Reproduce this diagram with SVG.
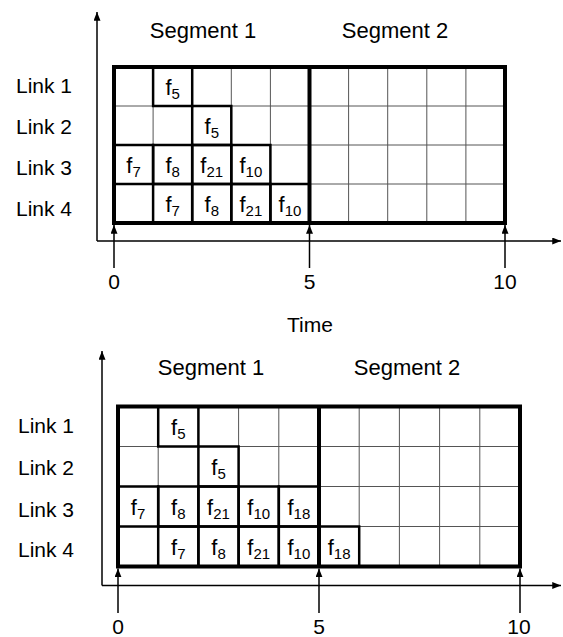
<svg xmlns="http://www.w3.org/2000/svg" width="563" height="637" viewBox="0 0 563 637">
<defs>
<marker id="ah" viewBox="0 0 10 8" refX="10" refY="4" markerWidth="9" markerHeight="7" markerUnits="userSpaceOnUse" orient="auto">
<path d="M0,0 L10,4 L0,8 z" fill="#000"/>
</marker>
</defs>
<style>
text{font-family:"Liberation Sans",Arial,sans-serif;fill:#000}
.lbl{font-size:21px}
.seg{font-size:22px;text-anchor:middle}
.num{font-size:21px;text-anchor:middle}
.f{font-size:22px;text-anchor:middle}
.s{font-size:15px}
.thin{stroke:#555;stroke-width:1;fill:none}
.cell{stroke:#000;stroke-width:2.5;fill:none}
.outer{stroke:#000;stroke-width:4;fill:none}
.ax{stroke:#000;stroke-width:1.5;fill:none;marker-end:url(#ah)}
</style>
<rect width="563" height="637" fill="#fff"/>

<!-- TOP DIAGRAM -->
<g id="top">
<g id="top-labels">
<text class="seg" x="203" y="38">Segment 1</text>
<text class="seg" x="395" y="38">Segment 2</text>
<text class="lbl" x="16" y="93">Link 1</text>
<text class="lbl" x="16" y="134">Link 2</text>
<text class="lbl" x="16" y="175">Link 3</text>
<text class="lbl" x="16" y="216">Link 4</text>
<text class="num" x="114" y="289">0</text>
<text class="num" x="309.5" y="289">5</text>
<text class="num" x="505" y="289">10</text>
<text class="num" x="310" y="332">Time</text>
</g>
<g id="top-grid">
<path class="thin" d="M153.1,67V223M192.2,67V223M231.3,67V223M270.4,67V223M348.6,67V223M387.7,67V223M426.8,67V223M465.9,67V223M114,106H505M114,145H505M114,184H505"/>
</g>
<g id="top-cells">
<rect class="cell" x="153.1" y="67" width="39.1" height="39"/>
<rect class="cell" x="192.2" y="106" width="39.1" height="39"/>
<rect class="cell" x="114" y="145" width="39.1" height="39"/>
<rect class="cell" x="153.1" y="145" width="39.1" height="39"/>
<rect class="cell" x="192.2" y="145" width="39.1" height="39"/>
<rect class="cell" x="231.3" y="145" width="39.1" height="39"/>
<rect class="cell" x="153.1" y="184" width="39.1" height="39"/>
<rect class="cell" x="192.2" y="184" width="39.1" height="39"/>
<rect class="cell" x="231.3" y="184" width="39.1" height="39"/>
<rect class="cell" x="270.4" y="184" width="39.1" height="39"/>
<text class="f" x="172.65" y="94.5">f<tspan class="s" dy="4">5</tspan></text>
<text class="f" x="211.75" y="133.5">f<tspan class="s" dy="4">5</tspan></text>
<text class="f" x="133.55" y="172.5">f<tspan class="s" dy="4">7</tspan></text>
<text class="f" x="172.65" y="172.5">f<tspan class="s" dy="4">8</tspan></text>
<text class="f" x="211.75" y="172.5">f<tspan class="s" dy="4">21</tspan></text>
<text class="f" x="250.85" y="172.5">f<tspan class="s" dy="4">10</tspan></text>
<text class="f" x="172.65" y="211.5">f<tspan class="s" dy="4">7</tspan></text>
<text class="f" x="211.75" y="211.5">f<tspan class="s" dy="4">8</tspan></text>
<text class="f" x="250.85" y="211.5">f<tspan class="s" dy="4">21</tspan></text>
<text class="f" x="289.95" y="211.5">f<tspan class="s" dy="4">10</tspan></text>
</g>
<g id="top-frame">
<rect class="outer" x="114" y="67" width="391" height="156"/>
<path class="outer" d="M309.5,67V223"/>
</g>
</g>

<!-- BOTTOM DIAGRAM -->
<g id="bottom">
<g id="bottom-labels">
<text class="seg" x="211" y="375">Segment 1</text>
<text class="seg" x="407" y="375">Segment 2</text>
<text class="lbl" x="18" y="433">Link 1</text>
<text class="lbl" x="18" y="475">Link 2</text>
<text class="lbl" x="18" y="516.5">Link 3</text>
<text class="lbl" x="18" y="557">Link 4</text>
<text class="num" x="118" y="634">0</text>
<text class="num" x="319" y="634">5</text>
<text class="num" x="519" y="634">10</text>
</g>
<g id="bottom-grid">
<path class="thin" d="M158.2,406.5V566.5M198.4,406.5V566.5M238.6,406.5V566.5M278.8,406.5V566.5M359.2,406.5V566.5M399.4,406.5V566.5M439.6,406.5V566.5M479.8,406.5V566.5M118,446.5H520M118,486.5H520M118,526.5H520"/>
</g>
<g id="bottom-cells">
<rect class="cell" x="158.2" y="406.5" width="40.2" height="40"/>
<rect class="cell" x="198.4" y="446.5" width="40.2" height="40"/>
<rect class="cell" x="118" y="486.5" width="40.2" height="40"/>
<rect class="cell" x="158.2" y="486.5" width="40.2" height="40"/>
<rect class="cell" x="198.4" y="486.5" width="40.2" height="40"/>
<rect class="cell" x="238.6" y="486.5" width="40.2" height="40"/>
<rect class="cell" x="278.8" y="486.5" width="40.2" height="40"/>
<rect class="cell" x="158.2" y="526.5" width="40.2" height="40"/>
<rect class="cell" x="198.4" y="526.5" width="40.2" height="40"/>
<rect class="cell" x="238.6" y="526.5" width="40.2" height="40"/>
<rect class="cell" x="278.8" y="526.5" width="40.2" height="40"/>
<rect class="cell" x="319" y="526.5" width="40.2" height="40"/>
<text class="f" x="178.3" y="434.5">f<tspan class="s" dy="4">5</tspan></text>
<text class="f" x="218.5" y="474.5">f<tspan class="s" dy="4">5</tspan></text>
<text class="f" x="138.1" y="514.5">f<tspan class="s" dy="4">7</tspan></text>
<text class="f" x="178.3" y="514.5">f<tspan class="s" dy="4">8</tspan></text>
<text class="f" x="218.5" y="514.5">f<tspan class="s" dy="4">21</tspan></text>
<text class="f" x="258.7" y="514.5">f<tspan class="s" dy="4">10</tspan></text>
<text class="f" x="298.9" y="514.5">f<tspan class="s" dy="4">18</tspan></text>
<text class="f" x="178.3" y="554.5">f<tspan class="s" dy="4">7</tspan></text>
<text class="f" x="218.5" y="554.5">f<tspan class="s" dy="4">8</tspan></text>
<text class="f" x="258.7" y="554.5">f<tspan class="s" dy="4">21</tspan></text>
<text class="f" x="298.9" y="554.5">f<tspan class="s" dy="4">10</tspan></text>
<text class="f" x="339.1" y="554.5">f<tspan class="s" dy="4">18</tspan></text>
</g>
<g id="bottom-frame">
<rect class="outer" x="118" y="406.5" width="402" height="160"/>
<path class="outer" d="M319,406.5V566.5"/>
</g>
</g>

<!-- CONNECTORS: axes and tick arrows -->
<g id="connectors">
<path class="ax" d="M97,241V12"/>
<path class="ax" d="M97,241H561"/>
<path class="ax" d="M114,268V225"/>
<path class="ax" d="M309.5,268V225"/>
<path class="ax" d="M505,268V225"/>
<path class="ax" d="M102,585.5V351"/>
<path class="ax" d="M102,585.5H561"/>
<path class="ax" d="M118,613V568.5"/>
<path class="ax" d="M319,613V568.5"/>
<path class="ax" d="M520,613V568.5"/>
</g>
</svg>
